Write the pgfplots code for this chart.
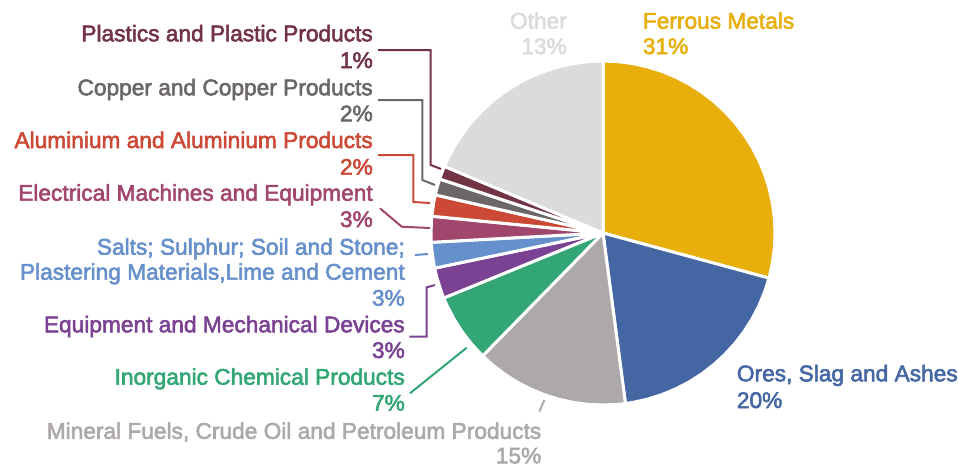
\documentclass[border=0pt]{standalone}
\usepackage{pgfplots}
\pgfplotsset{compat=1.18}
\usepgfplotslibrary{polar}
\usepackage{fontspec}
\setmainfont{Liberation Sans}[FakeBold=2.5]

\definecolor{cFer}{RGB}{232,174,12}
\definecolor{cOre}{RGB}{68,103,164}
\definecolor{cMin}{RGB}{173,169,168}
\definecolor{cInorg}{RGB}{51,166,117}
\definecolor{cEquip}{RGB}{123,66,148}
\definecolor{cSalt}{RGB}{102,144,203}
\definecolor{cElec}{RGB}{161,71,110}
\definecolor{cAlu}{RGB}{203,73,53}
\definecolor{cCop}{RGB}{107,103,102}
\definecolor{cPlas}{RGB}{114,51,68}
\definecolor{cOth}{RGB}{219,219,219}

\begin{document}
\begin{tikzpicture}[x=1pt,y=-1pt,
  lbl/.style={font=\fontsize{22.7}{26}\selectfont, inner sep=0pt},
  lead/.style={line width=2pt}]
\path[use as bounding box] (0,0) rectangle (958,467);
\coordinate (pc) at (603,233);

% wedges: (angle, radius), clockwise from the top
\begin{polaraxis}[at={(pc)}, anchor=center, hide axis, scale only axis,
  width=344pt, height=344pt, ymin=0, ymax=1, clip=false,
  every axis plot/.append style={draw=white, line width=3pt, line join=round}]
\addplot[fill=cFer] coordinates {(0,0) (90,1) (85,1) (80,1) (75,1) (70,1) (65,1) (60,1) (55,1) (50,1) (45,1) (40,1) (35,1) (30,1) (25,1) (20,1) (15,1) (10,1) (5,1) (0,1) (-5,1) (-10,1) (-15,1) (-15.2,1) (0,0)} -- cycle;
\addplot[fill=cOre] coordinates {(0,0) (-15.2,1) (-20,1) (-25,1) (-30,1) (-35,1) (-40,1) (-45,1) (-50,1) (-55,1) (-60,1) (-65,1) (-70,1) (-75,1) (-80,1) (-82.5,1) (0,0)} -- cycle;
\addplot[fill=cMin] coordinates {(0,0) (-82.5,1) (-85,1) (-90,1) (-95,1) (-100,1) (-105,1) (-110,1) (-115,1) (-120,1) (-125,1) (-130,1) (-134.4,1) (0,0)} -- cycle;
\addplot[fill=cInorg] coordinates {(0,0) (-134.4,1) (-140,1) (-145,1) (-150,1) (-155,1) (-157.8,1) (0,0)} -- cycle;
\addplot[fill=cEquip] coordinates {(0,0) (-157.8,1) (-160,1) (-165,1) (-168.2,1) (0,0)} -- cycle;
\addplot[fill=cSalt] coordinates {(0,0) (-168.2,1) (-170,1) (-175,1) (-176.9,1) (0,0)} -- cycle;
\addplot[fill=cElec] coordinates {(0,0) (-176.9,1) (-180,1) (-185,1) (-185.6,1) (0,0)} -- cycle;
\addplot[fill=cAlu] coordinates {(0,0) (-185.6,1) (-190,1) (-192.8,1) (0,0)} -- cycle;
\addplot[fill=cCop] coordinates {(0,0) (-192.8,1) (-195,1) (-198.3,1) (0,0)} -- cycle;
\addplot[fill=cPlas] coordinates {(0,0) (-198.3,1) (-200,1) (-202.8,1) (0,0)} -- cycle;
\addplot[fill=cOth] coordinates {(0,0) (-202.8,1) (-205,1) (-210,1) (-215,1) (-220,1) (-225,1) (-230,1) (-235,1) (-240,1) (-245,1) (-250,1) (-255,1) (-260,1) (-265,1) (-270,1) (0,0)} -- cycle;
\end{polaraxis}

% leader lines
\draw[lead, cPlas] (378,50) -- (430.7,50) -- (430.7,165) -- (441,169);
\draw[lead, cCop] (378,100) -- (422.3,100) -- (422.3,180) -- (435,185);
\draw[lead, cAlu] (378,155) -- (413.3,155) -- (413.3,202) -- (430,203);
\draw[lead, cElec] (380,208.3) -- (401.7,226.7) -- (430,228);
\draw[lead, cSalt] (415,255) -- (428,254);
\draw[lead, cEquip] (409.3,336.7) -- (426.7,336.7) -- (426.7,287.3) -- (435,285);
\draw[lead, cInorg] (410,393.3) -- (466.7,347.7);
\draw[lead, cMin] (544.3,400) -- (539.3,411.7);

% labels
\node[lbl, text=cPlas, anchor=base east] at (373,41.3) {Plastics and Plastic Products};
\node[lbl, text=cPlas, anchor=base east] at (373,68) {1\%};
\node[lbl, text=cCop, anchor=base east] at (373,95.3) {Copper and Copper Products};
\node[lbl, text=cCop, anchor=base east] at (373,121.3) {2\%};
\node[lbl, text=cAlu, anchor=base east] at (373,148) {Aluminium and Aluminium Products};
\node[lbl, text=cAlu, anchor=base east] at (373,174.7) {2\%};
\node[lbl, text=cElec, anchor=base east] at (373,200.7) {Electrical Machines and Equipment};
\node[lbl, text=cElec, anchor=base east] at (373,227) {3\%};
\node[lbl, text=cSalt, anchor=base east] at (405,254.7) {Salts; Sulphur; Soil and Stone;};
\node[lbl, text=cSalt, anchor=base east] at (405,279.7) {Plastering Materials,Lime and Cement};
\node[lbl, text=cSalt, anchor=base east] at (405,305.7) {3\%};
\node[lbl, text=cEquip, anchor=base east] at (405,332.3) {Equipment and Mechanical Devices};
\node[lbl, text=cEquip, anchor=base east] at (405,358) {3\%};
\node[lbl, text=cInorg, anchor=base east] at (405,384.7) {Inorganic Chemical Products};
\node[lbl, text=cInorg, anchor=base east] at (405,410.7) {7\%};
\node[lbl, text=cMin, anchor=base east] at (541.5,438.8) {Mineral Fuels, Crude Oil and Petroleum Products};
\node[lbl, text=cMin, anchor=base east] at (541.5,463.4) {15\%};
\node[lbl, text=cOth, anchor=base east] at (567,28.7) {Other};
\node[lbl, text=cOth, anchor=base east] at (567,54) {13\%};
\node[lbl, text=cFer, anchor=base west] at (642.7,28.7) {Ferrous Metals};
\node[lbl, text=cFer, anchor=base west] at (642.7,54) {31\%};
\node[lbl, text=cOre, anchor=base west] at (736.7,381.3) {Ores, Slag and Ashes};
\node[lbl, text=cOre, anchor=base west] at (736.7,408) {20\%};
\end{tikzpicture}
\end{document}
